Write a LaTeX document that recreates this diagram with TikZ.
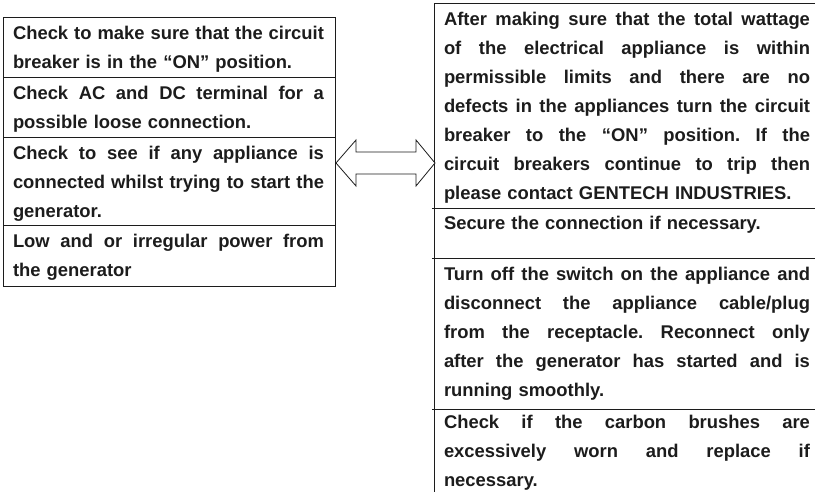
\documentclass[tikz,border=0pt]{standalone}
\usepackage{fontspec}
\setmainfont{Liberation Sans}
\definecolor{ink}{HTML}{1C1C1C}
\newlength\lw \setlength\lw{311pt}
\newlength\rw \setlength\rw{366pt}
\newcommand\jl[2]{\leavevmode\hbox to #1{\spaceskip=0.278em plus 1fil minus 0.05em\relax
  \xspaceskip=0.278em plus 1fil minus 0.05em\relax #2}\\}
\newcommand\fst{\rule{0pt}{14pt}}
\tikzset{
  cell/.style={anchor=north west, inner sep=0pt, outer sep=0pt, align=left,
    font=\fontsize{18.4}{29}\selectfont\bfseries, text=ink},
  rule/.style={draw=ink, line width=0.9pt},
  barrow/.style={draw=ink, line width=0.8pt, fill=white, line join=miter}
}
\begin{document}
\begin{tikzpicture}[x=1pt,y=-1pt]
\useasboundingbox (0,0) rectangle (815,494);
% left table
\draw[rule] (3,17) rectangle (335,286);
\draw[rule] (3,77) -- (336,77);
\draw[rule] (3,137) -- (336,137);
\draw[rule] (3,225) -- (336,225);
\node[cell, text width=\lw] (l1) at (13,25.3)
  {\fst\jl{\lw}{Check to make sure that the circuit}breaker is in the “ON” position.};
\node[cell, text width=\lw] (l2) at (13,85.3)
  {\fst\jl{\lw}{Check AC and DC terminal for a}possible loose connection.};
\node[cell, text width=\lw] (l3) at (13,145.3)
  {\fst\jl{\lw}{Check to see if any appliance is}\jl{\lw}{connected whilst trying to start the}generator.};
\node[cell, text width=\lw] (l4) at (13,233.3)
  {\fst\jl{\lw}{Low and or irregular power from}the generator};
% right table
\draw[rule] (434,3.3) -- (815,3.3);
\draw[rule] (434,3.3) -- (434,492);
\draw[rule] (432,208) -- (815,208);
\draw[rule] (432,258) -- (815,258);
\draw[rule] (432,409) -- (815,409);
\node[cell, text width=\rw] (r1) at (444,12)
  {\fst\jl{\rw}{After making sure that the total wattage}\jl{\rw}{of the electrical appliance is within}\jl{\rw}{permissible limits and there are no}\jl{\rw}{defects in the appliances turn the circuit}\jl{\rw}{breaker to the “ON” position. If the}\jl{\rw}{circuit breakers continue to trip then}please contact GENTECH INDUSTRIES.};
\node[cell, text width=\rw] (r2) at (444,216)
  {\fst Secure the connection if necessary.};
\node[cell, text width=\rw] (r3) at (444,267)
  {\fst\jl{\rw}{Turn off the switch on the appliance and}\jl{\rw}{disconnect the appliance cable/plug}\jl{\rw}{from the receptacle. Reconnect only}\jl{\rw}{after the generator has started and is}running smoothly.};
\node[cell, text width=\rw] (r4) at (444,415)
  {\fst\jl{\rw}{Check if the carbon brushes are}\jl{\rw}{excessively worn and replace if}necessary.};
% double block arrow
\coordinate (atl) at (336,163);
\coordinate (atr) at (435,163);
\draw[barrow] (atl) -- (356,140) -- (356,152) -- (416,152) -- (416,140) -- (atr)
  -- (416,186) -- (416,174) -- (356,174) -- (356,186) -- cycle;
\end{tikzpicture}
\end{document}
